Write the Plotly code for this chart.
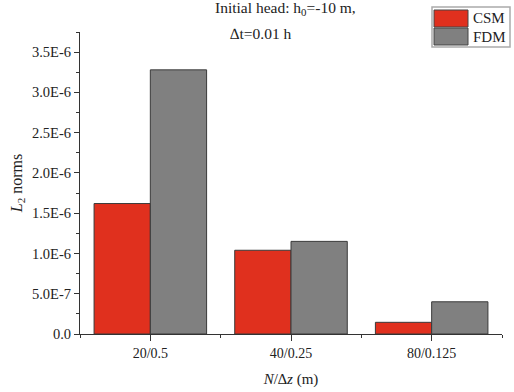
import plotly.graph_objects as go

categories = ["20/0.5", "40/0.25", "80/0.125"]
series_names = ["CSM", "FDM"]
csm_values = [1.62e-6, 1.04e-6, 0.145e-6]
fdm_values = [3.28e-6, 1.15e-6, 0.40e-6]
y_tick_values = [0, 0.5e-6, 1.0e-6, 1.5e-6, 2.0e-6, 2.5e-6, 3.0e-6, 3.5e-6]
y_tick_labels = ["0.0", "5.0E-7", "1.0E-6", "1.5E-6", "2.0E-6", "2.5E-6", "3.0E-6", "3.5E-6"]
title_lines = ["Initial head: h<sub>0</sub>=-10 m,", "∆t=0.01 h"]

colors = ["#E0301E", "#808080"]
FONT = "Liberation Serif, Times New Roman, serif"
AX = "#333333"
TXT = "#222222"

W, H = 514, 392
L, R, T, B = 80, 12, 32, 58
PW, PH = W - L - R, H - T - B


def px_x(x):
    return (x - L) / PW


def px_y(y):
    return (H - B - y) / PH


xpos = list(range(len(categories)))

fig = go.Figure()
for name, vals, col in zip(series_names, [csm_values, fdm_values], colors):
    fig.add_trace(go.Bar(
        x=xpos, y=vals, name=name, marker_color=col,
        marker_line_color="#3a3a3a", marker_line_width=1,
        showlegend=False,
    ))

fig.update_layout(
    width=W, height=H,
    margin=dict(l=L, r=R, t=T, b=B, autoexpand=False),
    paper_bgcolor="white", plot_bgcolor="white",
    barmode="group", bargap=0.2, bargroupgap=0,
    font=dict(family=FONT, size=12, color=TXT),
)

fig.update_xaxes(
    range=[-0.5, 2.5], tickvals=xpos, ticktext=categories, automargin=False,
    showline=True, linecolor=AX, linewidth=1.2, showgrid=False, zeroline=False,
    ticks="outside", ticklen=6, tickcolor=AX, tickfont=dict(size=14, family=FONT),
    minor=dict(tickvals=[-0.5, 0.5, 1.5, 2.5], ticks="outside", ticklen=3, tickcolor=AX),
    title=dict(text="<i>N</i>/∆<i>z</i> (m)", font=dict(size=15, family=FONT), standoff=13),
)
fig.update_yaxes(
    range=[0, 3.75e-6], tickvals=y_tick_values, ticktext=y_tick_labels, automargin=False,
    showline=True, linecolor=AX, linewidth=1.2, showgrid=False, zeroline=False,
    ticks="outside", ticklen=5, tickcolor=AX, tickfont=dict(size=14.5, family=FONT),
    minor=dict(dtick=0.25e-6, tick0=0, ticks="outside", ticklen=3, tickcolor=AX),
    title=dict(text="<i>L</i><sub>2</sub> norms", font=dict(size=16, family=FONT), standoff=5),
)

# Title text (two lines, placed separately as in the reference)
for txt, cx, cy in zip(title_lines, [285, 261], [9, 33]):
    fig.add_annotation(
        text=txt, xref="paper", yref="paper", x=px_x(cx), y=px_y(cy),
        xanchor="center", yanchor="middle", showarrow=False,
        font=dict(size=15.5, family=FONT, color=TXT),
    )

# Custom legend box at the top right
fig.add_shape(type="rect", xref="paper", yref="paper",
              x0=px_x(432), x1=px_x(510), y0=px_y(47), y1=px_y(7),
              line=dict(color="#aaaaaa", width=1.5), fillcolor="white")
for i, (name, col) in enumerate(zip(series_names, colors)):
    top = 10 + i * 18
    bot = top + 17
    fig.add_shape(type="rect", xref="paper", yref="paper",
                  x0=px_x(434), x1=px_x(468), y0=px_y(bot), y1=px_y(top),
                  line=dict(color="#444444", width=1), fillcolor=col)
    fig.add_annotation(text=name, xref="paper", yref="paper",
                       x=px_x(471), y=px_y((top + bot) / 2),
                       xanchor="left", yanchor="middle", showarrow=False,
                       font=dict(size=15, family=FONT, color=TXT))

fig.write_html("out.html", config={"displayModeBar": False},
               post_script="document.body.style.margin='0';")
